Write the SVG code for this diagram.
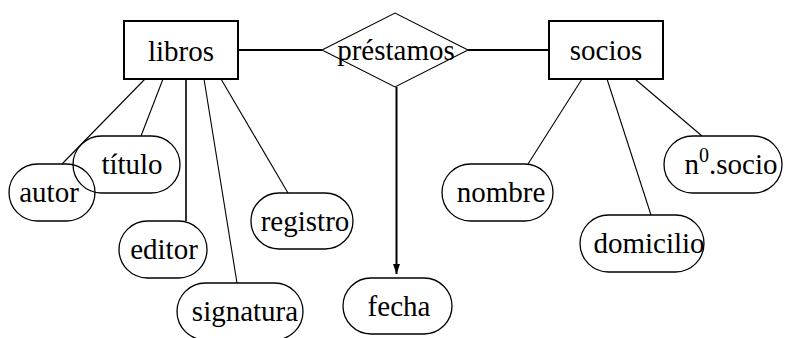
<svg xmlns="http://www.w3.org/2000/svg" width="785" height="338" viewBox="0 0 785 338">
<style>
.ent{fill:#fff;stroke:#000;stroke-width:2}
.att{fill:none;stroke:#000;stroke-width:1.3}
.rel{fill:#fff;stroke:#000;stroke-width:1.1}
.thin{stroke:#000;stroke-width:1.1;fill:none}
.thick{stroke:#000;stroke-width:2;fill:none}
</style>
<defs>
<marker id="arr" markerWidth="10" markerHeight="7" refX="10" refY="3.5" orient="auto" markerUnits="userSpaceOnUse">
<path d="M0,0 L10,3.5 L0,7 Z" fill="#000"/>
</marker>
</defs>
<g id="connectors">
<line class="thick" x1="238" y1="50" x2="322" y2="50"/>
<line class="thick" x1="468" y1="50" x2="549" y2="50"/>
<line class="thick" x1="396.5" y1="87" x2="396.5" y2="274" marker-end="url(#arr)"/>
<line class="thin" x1="145" y1="79" x2="62" y2="164"/>
<line class="thin" x1="163" y1="79" x2="141" y2="136"/>
<line class="thick" x1="186" y1="79" x2="186" y2="221" style="stroke-width:1.6"/>
<line class="thin" x1="204" y1="79" x2="237" y2="283"/>
<line class="thin" x1="221" y1="79" x2="288" y2="193"/>
<line class="thin" x1="582" y1="79" x2="528" y2="164"/>
<line class="thin" x1="607" y1="79" x2="651" y2="215"/>
<line class="thin" x1="635" y1="79" x2="702" y2="136"/>
</g>
<g id="libros">
<rect class="ent" x="124" y="21" width="114" height="58"/>
<text x="181" y="61" font-family="Liberation Serif" font-size="29" text-anchor="middle">libros</text>
</g>
<g id="prestamos">
<polygon class="rel" points="322,50 395,13 468,50 395,87"/>
<text x="396" y="60" font-family="Liberation Serif" font-size="29" text-anchor="middle">préstamos</text>
</g>
<g id="socios">
<rect class="ent" x="549" y="21" width="114" height="58"/>
<text x="606" y="60" font-family="Liberation Serif" font-size="29" text-anchor="middle">socios</text>
</g>
<g id="titulo">
<rect class="att" x="73" y="136" width="107" height="57" rx="28.5"/>
<text x="132" y="174" font-family="Liberation Serif" font-size="29" text-anchor="middle">título</text>
</g>
<g id="autor">
<rect class="att" x="9" y="164" width="86" height="57" rx="28.5"/>
<text x="49" y="202" font-family="Liberation Serif" font-size="29" text-anchor="middle">autor</text>
</g>
<g id="editor">
<rect class="att" x="119" y="221" width="88" height="57" rx="28.5"/>
<text x="164" y="259" font-family="Liberation Serif" font-size="29" text-anchor="middle">editor</text>
</g>
<g id="signatura">
<rect class="att" x="177" y="283" width="126" height="57" rx="28.5"/>
<text x="245" y="321" font-family="Liberation Serif" font-size="29" text-anchor="middle">signatura</text>
</g>
<g id="registro">
<rect class="att" x="251" y="193" width="102" height="56" rx="28"/>
<text x="305" y="231" font-family="Liberation Serif" font-size="29" text-anchor="middle">registro</text>
</g>
<g id="fecha">
<rect class="att" x="343" y="278" width="109" height="56" rx="28"/>
<text x="399" y="316" font-family="Liberation Serif" font-size="29" text-anchor="middle">fecha</text>
</g>
<g id="nombre">
<rect class="att" x="442" y="164" width="111" height="57" rx="28.5"/>
<text x="501" y="202" font-family="Liberation Serif" font-size="29" text-anchor="middle">nombre</text>
</g>
<g id="domicilio">
<rect class="att" x="580" y="215" width="124" height="57" rx="28.5"/>
<text x="649" y="253" font-family="Liberation Serif" font-size="29" text-anchor="middle">domicilio</text>
</g>
<g id="nsocio">
<rect class="att" x="664" y="136" width="118" height="57" rx="28.5"/>
<text x="731" y="174" font-family="Liberation Serif" font-size="29" text-anchor="middle">n<tspan font-size="20" dy="-12">0</tspan><tspan dy="12">.socio</tspan></text>
</g>
</svg>
